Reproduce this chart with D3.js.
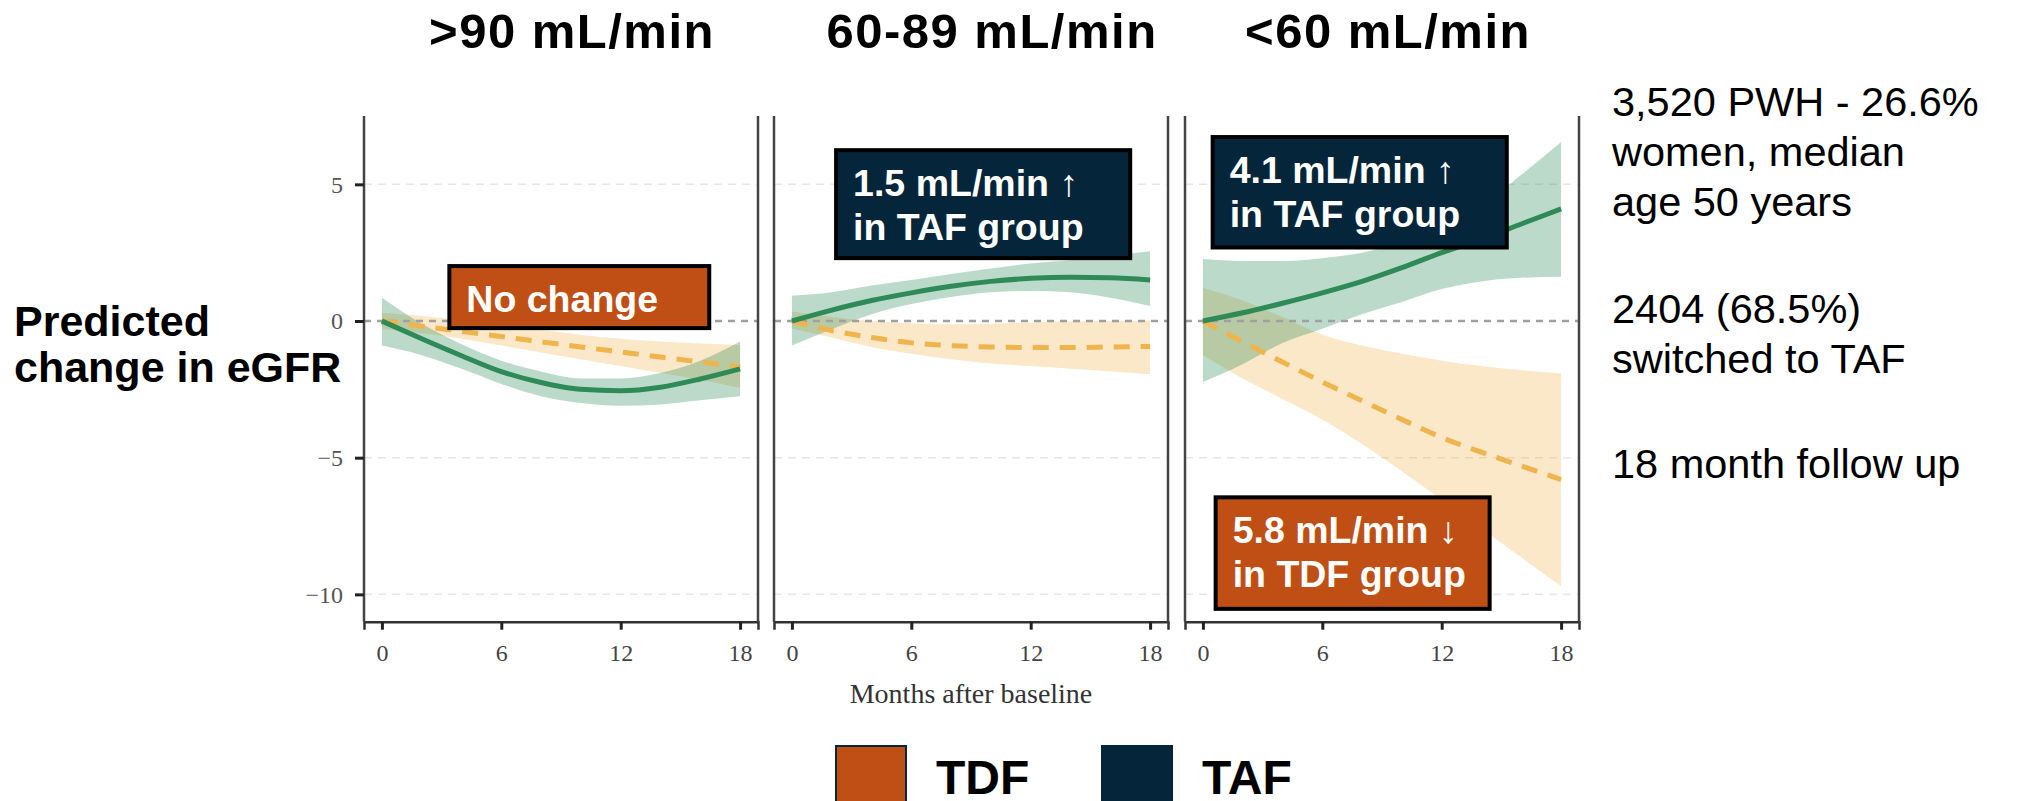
<!DOCTYPE html>
<html>
<head>
<meta charset="utf-8">
<script src="https://cdn.jsdelivr.net/npm/d3@7"></script>
<style>
  body { margin: 0; background: #fff; }
  svg { display: block; }
</style>
</head>
<body>
<div id="chart"></div>
<script>
// months after baseline where values were read
var months = [0, 2, 4, 6, 8, 10, 12, 14, 16, 18];
var panelTitles = [">90 mL/min", "60-89 mL/min", "<60 mL/min"];
var xTicks = [0, 6, 12, 18];
var yTicks = [5, 0, -5, -10];

// TAF (green) per panel
var tafMean = [
  [0, -0.65, -1.27, -1.85, -2.25, -2.5, -2.55, -2.42, -2.12, -1.75],
  [0, 0.4, 0.75, 1.03, 1.27, 1.45, 1.56, 1.6, 1.58, 1.5],
  [0, 0.3, 0.65, 1.03, 1.45, 1.95, 2.5, 3.0, 3.55, 4.1]
];
var tafLo = [
  [-0.9, -1.25, -1.75, -2.3, -2.75, -3.0, -3.1, -3.05, -2.9, -2.75],
  [-0.9, -0.3, 0.25, 0.62, 0.88, 1.05, 1.1, 1.05, 0.85, 0.55],
  [-2.23, -1.58, -0.8, -0.28, 0.25, 0.7, 1.17, 1.45, 1.58, 1.62]
];
var tafHi = [
  [0.85, -0.1, -0.85, -1.45, -1.85, -2.1, -2.1, -1.9, -1.45, -0.75],
  [0.92, 1.05, 1.3, 1.5, 1.72, 1.92, 2.1, 2.22, 2.38, 2.55],
  [2.27, 2.2, 2.2, 2.3, 2.5, 2.9, 3.5, 4.2, 5.35, 6.55]
];

// TDF (yellow, dashed) per panel
var tdfMean = [
  [0, -0.19, -0.38, -0.57, -0.76, -0.95, -1.13, -1.32, -1.5, -1.68],
  [0, -0.35, -0.6, -0.8, -0.9, -0.95, -0.97, -0.97, -0.95, -0.93],
  [0, -0.76, -1.5, -2.23, -2.92, -3.6, -4.26, -4.8, -5.3, -5.8]
];
var tdfLo = [
  [-0.28, -0.45, -0.65, -0.9, -1.15, -1.4, -1.65, -1.9, -2.15, -2.45],
  [-0.28, -0.6, -0.95, -1.2, -1.4, -1.55, -1.65, -1.75, -1.85, -1.95],
  [-1.25, -2.1, -2.85, -3.6, -4.5, -5.5, -6.55, -7.6, -8.65, -9.7]
];
var tdfHi = [
  [0.3, 0.18, 0.02, -0.15, -0.32, -0.5, -0.65, -0.75, -0.82, -0.88],
  [0.35, 0.15, 0.0, -0.08, -0.12, -0.1, -0.05, -0.02, 0.0, 0.02],
  [1.22, 0.75, 0.15, -0.5, -0.9, -1.2, -1.45, -1.65, -1.8, -1.92]
];

// callout boxes (corners in months / eGFR units)
var notes = [
  { p: 0, x0: 3.39, x1: 16.45, y0: 2.01, y1: -0.26, fill: "#C04F15", lines: ["No change"] },
  { p: 1, x0: 2.22, x1: 17.0, y0: 6.25, y1: 2.3, fill: "#05263A", lines: ["1.5 mL/min \u2191", "in TAF group"] },
  { p: 2, x0: 0.49, x1: 15.27, y0: 6.73, y1: 2.69, fill: "#05263A", lines: ["4.1 mL/min \u2191", "in TAF group"] },
  { p: 2, x0: 0.64, x1: 14.41, y0: -6.45, y1: -10.53, fill: "#C04F15", lines: ["5.8 mL/min \u2193", "in TDF group"] }
];

var sideText = ["3,520 PWH - 26.6%", "women, median", "age 50 years", "2404 (68.5%)", "switched to TAF", "18 month follow up"];
var legendItems = [
  { label: "TDF", fill: "#C04F15" },
  { label: "TAF", fill: "#05263A" }
];

(function () {
  var W = 2017, H = 801;
  var panelLeft = [364, 774, 1185];
  var panelW = 394;
  var plotTop = 116, plotBottom = 621.7;
  var titleX = [572, 992, 1388];
  var tafCol = "#2E8B57", tdfCol = "#F0B44C";
  var serif = "'Liberation Serif', 'DejaVu Serif', serif";
  var sans = "'Liberation Sans', Arial, sans-serif";

  var svg = d3.select("#chart").append("svg")
    .attr("width", W)
    .attr("height", H);

  var y = d3.scaleLinear().domain([-11, 7.5]).range([plotBottom, plotTop]);

  panelLeft.forEach(function (left, p) {
    var x = d3.scaleLinear().domain([-0.9, 18.9]).range([left, left + panelW]);
    var g = svg.append("g").attr("class", "panel");

    // light grid
    g.selectAll(".grid").data(yTicks.filter(function (d) { return d !== 0; }))
      .enter().append("line")
      .attr("x1", left).attr("x2", left + panelW)
      .attr("y1", function (d) { return y(d); }).attr("y2", function (d) { return y(d); })
      .attr("stroke", "#e6e6e6").attr("stroke-width", 1.5)
      .attr("stroke-dasharray", "8,6");

    var rows = function (mean, lo, hi) {
      return months.map(function (m, i) { return { m: m, v: mean[p][i], lo: lo[p][i], hi: hi[p][i] }; });
    };
    var taf = rows(tafMean, tafLo, tafHi);
    var tdf = rows(tdfMean, tdfLo, tdfHi);

    var band = d3.area()
      .x(function (d) { return x(d.m); })
      .y0(function (d) { return y(d.lo); })
      .y1(function (d) { return y(d.hi); })
      .curve(d3.curveMonotoneX);
    var line = d3.line()
      .x(function (d) { return x(d.m); })
      .y(function (d) { return y(d.v); })
      .curve(d3.curveMonotoneX);

    g.append("path").attr("d", band(tdf)).attr("fill", tdfCol).attr("opacity", 0.3);
    g.append("path").attr("d", band(taf)).attr("fill", tafCol).attr("opacity", 0.32);

    // zero reference
    g.append("line")
      .attr("x1", left).attr("x2", left + panelW)
      .attr("y1", y(0)).attr("y2", y(0))
      .attr("stroke", "#a0a0a0").attr("stroke-width", 2.5)
      .attr("stroke-dasharray", "7,6");

    g.append("path").attr("d", line(tdf)).attr("fill", "none")
      .attr("stroke", tdfCol).attr("stroke-width", 5).attr("stroke-dasharray", "16,11");
    g.append("path").attr("d", line(taf)).attr("fill", "none")
      .attr("stroke", tafCol).attr("stroke-width", 5);

    // x axis
    var xAxis = g.append("g")
      .attr("transform", "translate(0," + plotBottom + ")")
      .call(d3.axisBottom(x).tickValues(xTicks).tickSize(8).tickPadding(14));
    xAxis.select(".domain").attr("stroke", "#333").attr("stroke-width", 2.5);
    xAxis.selectAll(".tick line").attr("stroke", "#222").attr("stroke-width", 3);
    xAxis.selectAll(".tick text").attr("font-family", serif).attr("font-size", 24).attr("fill", "#444");

    // side borders
    [left, left + panelW].forEach(function (bx) {
      g.append("line").attr("x1", bx).attr("x2", bx).attr("y1", plotTop).attr("y2", plotBottom)
        .attr("stroke", "#444").attr("stroke-width", 2.5);
    });

    if (p === 0) {
      var yAxis = g.append("g")
        .attr("transform", "translate(" + left + ",0)")
        .call(d3.axisLeft(y).tickValues(yTicks).tickSize(9).tickPadding(12));
      yAxis.select(".domain").remove();
      yAxis.selectAll(".tick line").attr("stroke", "#222").attr("stroke-width", 3);
      yAxis.selectAll(".tick text").attr("font-family", serif).attr("font-size", 24).attr("fill", "#555");
    }

    // panel title
    svg.append("text")
      .attr("x", titleX[p]).attr("y", 48)
      .attr("text-anchor", "middle")
      .attr("font-family", sans).attr("font-weight", "bold").attr("font-size", 49)
      .attr("letter-spacing", 1.5)
      .text(panelTitles[p]);

    // callouts
    notes.filter(function (n) { return n.p === p; }).forEach(function (n) {
      var bx = x(n.x0), by = y(n.y0);
      g.append("rect")
        .attr("x", bx).attr("y", by)
        .attr("width", x(n.x1) - bx).attr("height", y(n.y1) - by)
        .attr("fill", n.fill).attr("stroke", "#000").attr("stroke-width", 4);
      n.lines.forEach(function (t, i) {
        g.append("text")
          .attr("x", bx + 17).attr("y", by + 46 + i * 44)
          .attr("fill", "#fff")
          .attr("font-family", sans).attr("font-weight", "bold").attr("font-size", 37.5)
          .text(t);
      });
    });
  });

  // y axis title
  svg.append("text")
    .attr("font-family", sans).attr("font-weight", "bold").attr("font-size", 43)
    .selectAll("tspan").data(["Predicted", "change in eGFR"]).enter().append("tspan")
    .attr("x", 14).attr("y", function (d, i) { return 336 + i * 46; })
    .text(function (d) { return d; });

  // x axis title
  svg.append("text")
    .attr("x", 971).attr("y", 703)
    .attr("text-anchor", "middle")
    .attr("font-family", serif).attr("font-size", 28).attr("fill", "#333")
    .text("Months after baseline");

  // study summary text
  var sideY = [116, 166, 216, 323, 373, 478];
  svg.append("g").selectAll("text").data(sideText).enter().append("text")
    .attr("x", 1612).attr("y", function (d, i) { return sideY[i]; })
    .attr("font-family", sans).attr("font-size", 41.5).attr("fill", "#000")
    .text(function (d) { return d; });

  // legend
  var legendX = [836, 1102];
  var lg = svg.append("g").selectAll("g").data(legendItems).enter().append("g")
    .attr("transform", function (d, i) { return "translate(" + legendX[i] + ",746)"; });
  lg.append("rect").attr("width", 70).attr("height", 70)
    .attr("fill", function (d) { return d.fill; })
    .attr("stroke", "#05263A").attr("stroke-width", 2);
  lg.append("text").attr("x", 100).attr("y", 48)
    .attr("font-family", sans).attr("font-weight", "bold").attr("font-size", 48)
    .text(function (d) { return d.label; });
})();
</script>
</body>
</html>
